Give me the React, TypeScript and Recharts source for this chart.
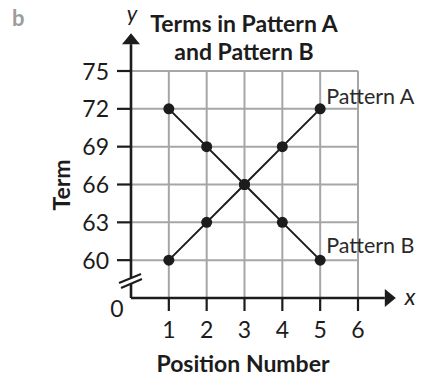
import React from 'react';
import {
  LineChart,
  Line,
  XAxis,
  YAxis,
  CartesianGrid,
  ReferenceLine,
  ReferenceDot,
  LabelList,
} from 'recharts';

// Position numbers and the terms of each pattern
const positions = [1, 2, 3, 4, 5];
const patternA = [60, 63, 66, 69, 72];
const patternB = [72, 69, 66, 63, 60];
const seriesNames = ['Pattern A', 'Pattern B'];

// Axis ticks; 57 is the foot of the broken y axis and is labelled 0
const xTicks = [1, 2, 3, 4, 5, 6];
const yTicks = [57, 60, 63, 66, 69, 72, 75];
const gridRows = [60, 63, 66, 69, 72, 75];
const yOrigin = 57;

const data = positions.map((p, i) => ({ position: p, a: patternA[i], b: patternB[i] }));

const FONT = 'Lato, "Open Sans", sans-serif';
const INK = '#1c1c1c';

// Axis segment with a filled arrow head at its second end point
const ArrowLine = (p: any) => {
  const { x1, y1, x2, y2 } = p;
  const len = Math.hypot(x2 - x1, y2 - y1) || 1;
  const ux = (x2 - x1) / len;
  const uy = (y2 - y1) / len;
  const head = 11;
  const half = 9;
  const bx = x2 - ux * head;
  const by = y2 - uy * head;
  const px = -uy;
  const py = ux;
  return (
    <g>
      <line x1={x1} y1={y1} x2={bx} y2={by} stroke={INK} strokeWidth={2.6} />
      <polygon
        points={`${x2},${y2} ${bx + px * half},${by + py * half} ${bx - px * half},${by - py * half}`}
        fill={INK}
      />
    </g>
  );
};

const PlainLine = (p: any) => (
  <line x1={p.x1} y1={p.y1} x2={p.x2} y2={p.y2} stroke={INK} strokeWidth={2.6} />
);

// Two slashes marking the break in the y axis
const BreakMark = (p: any) => {
  const { cx, cy } = p;
  return (
    <g stroke={INK} strokeWidth={2}>
      <line x1={cx - 12} y1={cy + 2} x2={cx + 10} y2={cy - 7} />
      <line x1={cx - 10} y1={cy + 7} x2={cx + 11} y2={cy - 2} />
    </g>
  );
};

const YTick = (p: any) => {
  const { x, y, payload } = p;
  if (payload.value === yOrigin) {
    return (
      <text x={x - 14} y={y + 19} textAnchor="middle" fontFamily={FONT} fontSize={23} fill={INK}>
        0
      </text>
    );
  }
  return (
    <g>
      <line x1={x - 14} y1={y} x2={x} y2={y} stroke={INK} strokeWidth={2.2} />
      <text x={x - 22} y={y + 8.5} textAnchor="end" fontFamily={FONT} fontSize={23} fill={INK}>
        {payload.value}
      </text>
    </g>
  );
};

const XTick = (p: any) => {
  const { x, y, payload } = p;
  return (
    <g>
      <line x1={x} y1={y} x2={x} y2={y + 13} stroke={INK} strokeWidth={2.2} />
      <text x={x} y={y + 40} textAnchor="middle" fontFamily={FONT} fontSize={23} fill={INK}>
        {payload.value}
      </text>
    </g>
  );
};

const endLabel = (name: string, dy: number) => (props: any) => {
  const { x, y, index } = props;
  if (index !== positions.length - 1) return <g />;
  return (
    <text x={x + 6} y={y + dy} fontFamily={FONT} fontSize={21.5} fill="#2a2a2a">
      {name}
    </text>
  );
};

export default function App() {
  return (
    <div style={{ position: 'absolute', left: 0, top: 0, width: 422, height: 378, background: '#fff' }}>
      <LineChart
        width={422}
        height={378}
        data={data}
        margin={{ top: 71, right: 64, bottom: 50, left: 91 }}
      >
        <CartesianGrid
          stroke="#a6a6a6"
          strokeWidth={2}
          horizontalValues={gridRows}
          verticalValues={xTicks}
        />
        <XAxis
          dataKey="position"
          type="number"
          domain={[0, 6]}
          ticks={xTicks}
          interval={0}
          height={30}
          axisLine={false}
          tickLine={false}
          tickSize={0}
          tickMargin={0}
          tick={XTick}
        />
        <YAxis
          type="number"
          domain={[yOrigin, 75]}
          ticks={yTicks}
          interval={0}
          width={40}
          axisLine={false}
          tickLine={false}
          tickSize={0}
          tickMargin={0}
          tick={YTick}
        />
        <ReferenceLine
          segment={[{ x: 0, y: 58.59 }, { x: 0, y: 78 }]}
          ifOverflow="visible"
          shape={ArrowLine}
        />
        <ReferenceLine
          segment={[{ x: 0, y: yOrigin }, { x: 0, y: 58.11 }]}
          ifOverflow="visible"
          shape={PlainLine}
        />
        <ReferenceLine
          segment={[{ x: 0, y: yOrigin }, { x: 7, y: yOrigin }]}
          ifOverflow="visible"
          shape={ArrowLine}
        />
        <ReferenceDot x={0} y={58.35} r={1} ifOverflow="visible" shape={BreakMark} />
        <Line
          dataKey="a"
          name={seriesNames[0]}
          stroke={INK}
          strokeWidth={2}
          dot={{ r: 5.5, fill: INK, stroke: INK, strokeWidth: 0 }}
          activeDot={false}
          isAnimationActive={false}
        >
          <LabelList dataKey="a" content={endLabel(seriesNames[0], -5)} />
        </Line>
        <Line
          dataKey="b"
          name={seriesNames[1]}
          stroke={INK}
          strokeWidth={2}
          dot={{ r: 5.5, fill: INK, stroke: INK, strokeWidth: 0 }}
          activeDot={false}
          isAnimationActive={false}
        >
          <LabelList dataKey="b" content={endLabel(seriesNames[1], -7)} />
        </Line>
      </LineChart>
      <svg
        width={422}
        height={378}
        style={{ position: 'absolute', left: 0, top: 0, pointerEvents: 'none' }}
        fontFamily={FONT}
      >
        <text x={12} y={26} fontSize={22} fontWeight={700} fill="#9c9c9c">b</text>
        <text x={132} y={21} fontSize={22} fontStyle="italic" textAnchor="middle" fill={INK}>y</text>
        <text x={244} y={32} fontSize={23} fontWeight={700} textAnchor="middle" fill={INK}>
          Terms in Pattern A
        </text>
        <text x={244} y={60} fontSize={23} fontWeight={700} textAnchor="middle" fill={INK}>
          and Pattern B
        </text>
        <text
          transform="translate(70,185) rotate(-90)"
          fontSize={23}
          fontWeight={700}
          textAnchor="middle"
          fill={INK}
        >
          Term
        </text>
        <text x={243} y={372} fontSize={23} fontWeight={700} textAnchor="middle" fill={INK}>
          Position Number
        </text>
        <text x={410} y={305} fontSize={23} fontStyle="italic" textAnchor="middle" fill={INK}>x</text>
      </svg>
    </div>
  );
}
